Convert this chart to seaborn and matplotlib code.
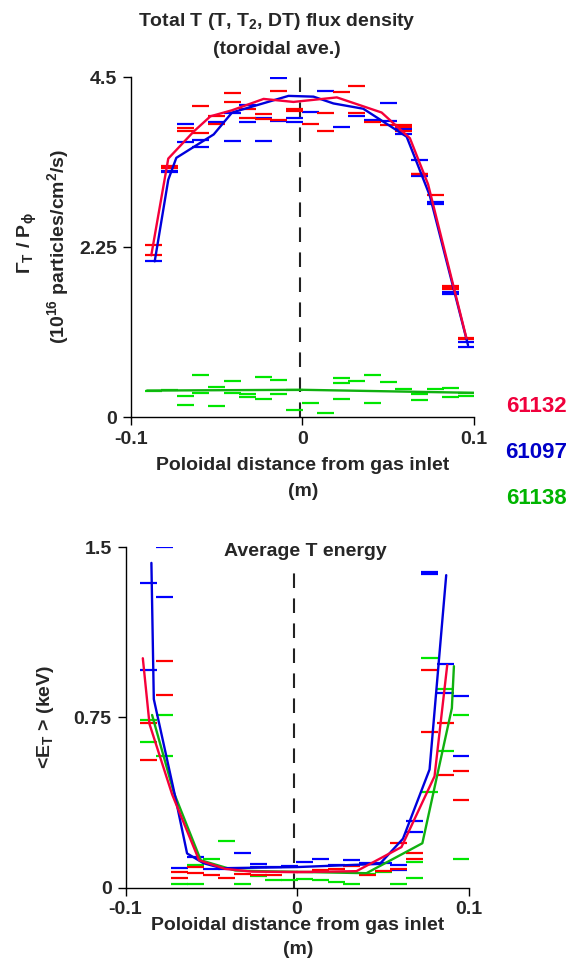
import pandas as pd
import matplotlib
matplotlib.use('Agg')
import matplotlib.pyplot as plt
import seaborn as sns

sns.set_theme(style='ticks')
plt.rcParams['font.family'] = ['Liberation Sans', 'DejaVu Sans']
plt.rcParams['font.weight'] = 'bold'
plt.rcParams['mathtext.fontset'] = 'custom'
plt.rcParams['mathtext.rm'] = 'Liberation Sans:bold'
plt.rcParams['mathtext.it'] = 'Liberation Sans:bold'
plt.rcParams['mathtext.bf'] = 'Liberation Sans:bold'
plt.rcParams['axes.linewidth'] = 1.0

# probe positions (m)
POS = [-0.0865, -0.0774, -0.0683, -0.0592, -0.0500, -0.0409, -0.0318, -0.0227,
       -0.0136, -0.0045, 0.0046, 0.0137, 0.0228, 0.0319, 0.0411, 0.0502,
       0.0593, 0.0684, 0.0775, 0.0866, 0.0958]

shots = ['61138', '61097', '61132']

# flux density, individual toroidal measurements at each probe
flux_61132 = [[2.28, 2.14], [3.32, 3.29], [3.82, 3.78], [4.11, 3.76], [3.99, 3.88],
              [4.29, 4.17], [4.07, 3.96], [4.01, 3.94], [4.32, 3.93], [4.07, 4.05],
              [3.88], [4.03, 3.79], [4.30], [4.38, 4.03], [3.90], [3.87],
              [3.86, 3.84, 3.79], [3.22, 3.21], [2.94], [1.73, 1.71, 1.69], [1.05, 1.03]]
flux_61097 = [[2.06], [3.26, 3.24], [3.88, 3.64], [3.67, 3.57], [3.90], [4.03, 3.65],
              [4.13, 3.90], [3.96, 3.65], [4.49, 3.92], [3.96, 3.90], [4.04], [4.32],
              [3.84], [3.98], [3.93], [4.15, 3.92], [3.81, 3.74], [3.40, 3.19],
              [2.84, 2.82], [1.65, 1.63], [0.99, 0.93]]
flux_61138 = [[0.34], [0.36], [0.28, 0.16], [0.56, 0.32], [0.40, 0.14], [0.47, 0.32],
              [0.30, 0.26], [0.53, 0.24], [0.49, 0.30], [0.36, 0.09], [0.18], [0.05],
              [0.51, 0.45, 0.24], [0.47], [0.55, 0.18], [0.46], [0.37], [0.31, 0.22],
              [0.37], [0.38, 0.26], [0.32, 0.28]]

# toroidal averages
flux_avg_x = {
    '61132': [-0.0880, -0.0781, -0.0632, -0.0535, -0.0409, -0.0225, -0.0051, 0.0202,
              0.0463, 0.0628, 0.0734, 0.0958],
    '61097': [-0.0860, -0.0781, -0.0734, -0.0516, -0.0409, -0.0080, 0.0066, 0.0182,
              0.0356, 0.0609, 0.0744, 0.0967],
    '61138': [-0.0905, 0.0, 0.100],
}
flux_avg_y = {
    '61132': [2.14, 3.42, 3.78, 3.98, 4.06, 4.21, 4.17, 4.23, 4.03, 3.69, 3.08, 1.04],
    '61097': [2.06, 3.14, 3.43, 3.74, 4.03, 4.25, 4.24, 4.15, 4.08, 3.71, 2.93, 0.95],
    '61138': [0.35, 0.36, 0.32],
}

# average T energy (keV)
energy_61132 = [[0.725, 0.56], [1.00, 0.85], [0.068, 0.043], [0.09, 0.063], [0.057],
                [0.043], [0.06], [0.057], [0.057], [0.068], [0.07], [0.075], [0.08],
                [0.093], [0.053], [0.072], [0.195, 0.08], [0.153, 0.126],
                [0.956, 0.684], [0.725, 0.497], [0.512, 0.387]]
energy_61097 = [[1.34, 0.957], [1.50, 1.28], [0.085], [0.134], [0.082], [0.08], [0.153],
                [0.104, 0.09], [0.09], [0.096], [0.112], [0.126], [0.10], [0.12], [0.11],
                [0.11], [0.101, 0.075], [0.293, 0.244], [1.388, 1.379], [0.984, 0.857],
                [0.844, 0.578]]
energy_61138 = [[0.74, 0.64], [0.76, 0.58], [0.016], [0.097, 0.016], [0.126], [0.203],
                [0.016], [0.05], [0.034], [0.034], [0.038], [0.035], [0.023], [0.016],
                [0.06], [0.07], [0.016], [0.112, 0.04], [1.01, 0.42], [0.873, 0.60],
                [0.762, 0.126]]

energy_avg_x = {
    '61132': [-0.0899, -0.0860, -0.0728, -0.0571, -0.0419, -0.0263, 0.0008, 0.0347,
              0.0609, 0.0802, 0.0876],
    '61097': [-0.0849, -0.0835, -0.0713, -0.0641, -0.0545, -0.0438, 0.0, 0.0483,
              0.0618, 0.0773, 0.0870],
    '61138': [-0.0845, -0.0719, -0.0561, -0.0360, -0.0215, 0.0405, 0.0731, 0.0903, 0.0915],
}
energy_avg_y = {
    '61132': [1.01, 0.72, 0.41, 0.12, 0.082, 0.07, 0.068, 0.072, 0.178, 0.49, 0.98],
    '61097': [1.43, 0.83, 0.41, 0.15, 0.107, 0.085, 0.09, 0.104, 0.215, 0.52, 1.376],
    '61138': [0.76, 0.42, 0.12, 0.075, 0.072, 0.063, 0.195, 0.79, 0.975],
}

x_ticks = [-0.1, 0, 0.1]
x_ticklabels = ['-0.1', '0', '0.1']
flux_ticks = [0, 2.25, 4.5]
flux_ticklabels = ['0', '2.25', '4.5']
energy_ticks = [0, 0.75, 1.5]
energy_ticklabels = ['0', '0.75', '1.5']

dash_pal = {'61132': '#ff0000', '61097': '#0000ff', '61138': '#00e600'}
line_pal = {'61132': '#f5003a', '61097': '#0000dc', '61138': '#10b010'}
text_pal = {'61132': '#f0003c', '61097': '#0000c8', '61138': '#00b400'}


def points_df(series):
    rows = []
    for shot in shots:
        for x, vals in zip(POS, series[shot]):
            for v in vals:
                rows.append((shot, x, v))
    return pd.DataFrame(rows, columns=['shot', 'x', 'y'])


def lines_df(xs, ys):
    rows = []
    for shot in shots:
        for x, y in zip(xs[shot], ys[shot]):
            rows.append((shot, x, y))
    return pd.DataFrame(rows, columns=['shot', 'x', 'y'])


flux_pts = points_df({'61132': flux_61132, '61097': flux_61097, '61138': flux_61138})
energy_pts = points_df({'61132': energy_61132, '61097': energy_61097, '61138': energy_61138})
flux_lines = lines_df(flux_avg_x, flux_avg_y)
energy_lines = lines_df(energy_avg_x, energy_avg_y)

W, H = 582, 966
fig = plt.figure(figsize=(W / 100, H / 100), dpi=100)
ax1 = fig.add_axes([130.7 / W, 1 - 417 / H, 343 / W, 340 / H])
ax2 = fig.add_axes([125.5 / W, 1 - 887.5 / H, 343 / W, 340.5 / H])


def draw(ax, pts, lines, ylim, yticks, yticklabels, vline_top):
    sns.scatterplot(data=pts, x='x', y='y', hue='shot', hue_order=shots, palette=dash_pal,
                    marker='_', s=150, linewidth=1.6, legend=False, ax=ax, zorder=3)
    sns.lineplot(data=lines, x='x', y='y', hue='shot', hue_order=shots, palette=line_pal,
                 sort=False, estimator=None, linewidth=1.7, legend=False, ax=ax, zorder=4)
    ax.axvline(-0.0015, ymin=0, ymax=vline_top, color='#222222', lw=1.5,
               dashes=(7, 5), clip_on=False, zorder=2)
    ax.set_xlim(-0.1, 0.1)
    ax.set_ylim(*ylim)
    ax.set_xticks(x_ticks)
    ax.set_xticklabels(x_ticklabels)
    ax.set_yticks(yticks)
    ax.set_yticklabels(yticklabels)
    ax.tick_params(direction='out', length=6, width=1, labelsize=14, pad=4, color='black')
    for s in ['top', 'right']:
        ax.spines[s].set_visible(False)
    for s in ['left', 'bottom']:
        ax.spines[s].set_color('black')
    ax.set_xlabel('')
    ax.set_ylabel('')
    ax.set_facecolor('white')


draw(ax1, flux_pts, flux_lines, (0, 4.5), flux_ticks, flux_ticklabels, 1.03)
draw(ax2, energy_pts, energy_lines, (0, 1.5), energy_ticks, energy_ticklabels, 0.94)

fs = 14
fig.text(277 / W, 1 - 22 / H, r'Total T (T, T$_2$, DT) flux density', ha='center',
         va='center', fontsize=fs)
fig.text(277 / W, 1 - 50 / H, '(toroidal ave.)', ha='center', va='center', fontsize=fs)

fig.text(27 / W, 1 - 243 / H, r'$\Gamma_T$ / P$_\phi$', rotation=90, ha='center',
         va='center', fontsize=fs)
fig.text(58 / W, 1 - 246 / H, r'(10$^{16}$ particles/cm$^2$/s)', rotation=90,
         ha='center', va='center', fontsize=fs)
fig.text(46 / W, 1 - 717 / H, r'<E$_T$ > (keV)', rotation=90, ha='center',
         va='center', fontsize=fs)

for ybase, xc, gap in [(466, 303, 26), (926, 298, 24)]:
    fig.text(xc / W, 1 - ybase / H, 'Poloidal distance from gas inlet', ha='center',
             va='center', fontsize=fs)
    fig.text(xc / W, 1 - (ybase + gap) / H, '(m)', ha='center', va='center', fontsize=fs)

fig.text(305 / W, 1 - 551 / H, 'Average T energy', ha='center', va='center', fontsize=fs)

for shot, ypix in zip(['61132', '61097', '61138'], [407, 453, 498]):
    fig.text(536 / W, 1 - ypix / H, shot, color=text_pal[shot], ha='center', va='center',
             fontsize=16)

fig.savefig('out.png', dpi=100, facecolor='white')
